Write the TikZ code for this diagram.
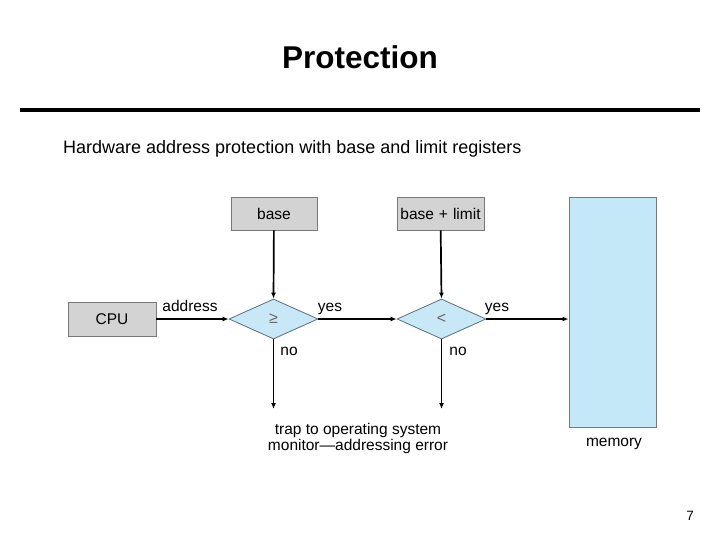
\documentclass[tikz,border=0pt]{standalone}
\usepackage{fontspec}
\setmainfont{Liberation Sans}
\usetikzlibrary{arrows.meta,shapes.geometric}
\definecolor{boxgray}{RGB}{211,211,211}
\definecolor{boxedge}{RGB}{120,120,120}
\definecolor{memblue}{RGB}{197,232,248}
\definecolor{dblue}{RGB}{200,232,248}
\definecolor{dedge}{RGB}{90,110,125}
\begin{document}
\begin{tikzpicture}[x=1pt,y=-1pt,
  reg/.style={draw=boxedge,fill=boxgray,line width=0.8pt,minimum height=33pt,inner sep=0pt,font=\fontsize{15.5}{18}\selectfont},
  dec/.style={draw=dedge,fill=dblue,diamond,line width=0.8pt,minimum width=89pt,minimum height=40pt,aspect=2.2,inner sep=0pt,font=\fontsize{16}{18}\selectfont,text=black!60},
  lbl/.style={font=\fontsize{15.5}{18}\selectfont,inner sep=0pt,anchor=base},
  arr/.style={line width=1.7pt,-{Latex[length=6pt,width=5pt]}}]
\useasboundingbox (0,0) rectangle (720,540);
\node[font=\fontsize{31.5}{36}\selectfont\bfseries] (title) at (360,57) {Protection};
\draw[line width=4pt] (20,110) -- (700,110);
\node[anchor=west,font=\fontsize{18}{21}\selectfont,inner sep=0pt] (sub) at (63,149) {Hardware address protection with base and limit registers};
\node[reg,minimum width=86pt] (base) at (274,213.5) {base};
\node[reg,minimum width=87pt,font=\fontsize{15.5}{18}\selectfont] (bl) at (440.5,213.5) {base\hspace{5pt}+\hspace{5pt}limit};
\node[reg,minimum width=88pt,minimum height=34pt] (cpu) at (112,319) {CPU};
\node[draw=boxedge,fill=memblue,line width=0.8pt,minimum width=87pt,minimum height=230pt,inner sep=0pt] (mem) at (612.5,312) {};
\node[dec] (d1) at (273.5,319) {≥};
\node[dec] (d2) at (441.5,319) {<};
\draw[arr] (cpu) -- (d1.west);
\draw[arr] (d1.east) -- (d2.west);
\draw[arr] (d2.east) -- (mem.west |- d2.east);
\draw[arr] (base) -- (d1.north);
\draw[arr] (bl) -- (d2.north);
\coordinate (e1) at (273.5,409);
\coordinate (e2) at (441.5,409);
\draw[arr] (d1.south) -- (e1);
\draw[arr] (d2.south) -- (e2);
\node[lbl] (la) at (190,311) {address};
\node[lbl] (ly1) at (330,311) {yes};
\node[lbl] (ly2) at (497,311) {yes};
\node[lbl] (ln1) at (289,355) {no};
\node[lbl] (ln2) at (458,355) {no};
\node[lbl] (trap1) at (358,434) {trap to operating system};
\node[lbl] (trap2) at (358,450) {monitor—addressing error};
\node[lbl] (memlbl) at (614,446) {memory};
\node[lbl,font=\fontsize{13.5}{16}\selectfont] (pg) at (690,520) {7};
\end{tikzpicture}
\end{document}
